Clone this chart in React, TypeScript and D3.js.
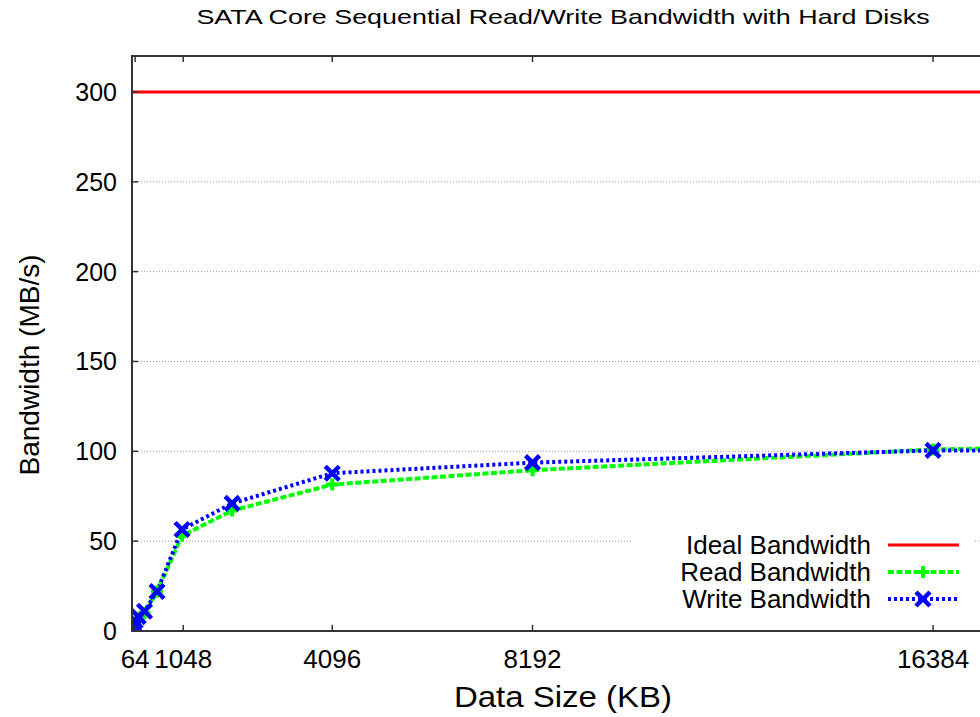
import React from "react";
import * as d3 from "d3";

// Data sizes in KB and measured bandwidth in MB/s
const dataSizes = [16, 32, 64, 128, 256, 512, 1024, 2048, 4096, 8192, 16384, 32768];
const readBandwidth = [1, 2.5, 4.5, 7, 10, 22, 53, 67, 81.5, 89.5, 101, 110];
const writeBandwidth = [2, 3.5, 5.5, 8, 11, 22, 56.5, 71, 87.8, 93.7, 100.5, 100];
const idealBandwidth = 300;

const xTicks = [64, 1048, 4096, 8192, 16384];
const yTicks = [0, 50, 100, 150, 200, 250, 300];

const W = 980;
const H = 717;
const M = { left: 132, top: 56, right: 992, bottom: 631 };

const FONT = "'Liberation Sans', Arial, Helvetica, sans-serif";

export default function App() {
  const x = d3.scaleLinear().domain([0, 17590]).range([M.left, M.right]);
  const y = d3.scaleLinear().domain([0, 320]).range([M.bottom, M.top]);

  const readPts: [number, number][] = dataSizes.map((d, i) => [d, readBandwidth[i]]);
  const writePts: [number, number][] = dataSizes.map((d, i) => [d, writeBandwidth[i]]);

  const line = d3
    .line<[number, number]>()
    .x((d) => x(d[0]))
    .y((d) => y(d[1]));

  const plus = (cx: number, cy: number, r: number) =>
    `M${cx - r},${cy}L${cx + r},${cy}M${cx},${cy - r}L${cx},${cy + r}`;
  const cross = (cx: number, cy: number, r: number) =>
    `M${cx - r},${cy - r}L${cx + r},${cy + r}M${cx - r},${cy + r}L${cx + r},${cy - r}`;

  const legendRows = [
    { label: "Ideal Bandwidth", color: "#ff0000", dash: "none", width: 3, marker: null },
    { label: "Read Bandwidth", color: "#00ff00", dash: "6,2.5", width: 4, marker: "plus" },
    { label: "Write Bandwidth", color: "#0000ff", dash: "3,3", width: 4, marker: "cross" },
  ];

  return (
    <svg
      width={W}
      height={H}
      style={{ position: "absolute", left: 0, top: 0, background: "#fff" }}
      fontFamily={FONT}
    >
      <defs>
        <clipPath id="plotArea">
          <rect x={M.left} y={M.top} width={M.right - M.left} height={M.bottom - M.top} />
        </clipPath>
      </defs>

      {/* title, set in a horizontally widened face */}
      <text
        transform="translate(563,24) scale(1.28,1)"
        fontSize={21}
        textAnchor="middle"
        fill="#000"
      >
        SATA Core Sequential Read/Write Bandwidth with Hard Disks
      </text>

      {/* horizontal grid */}
      {yTicks
        .filter((t) => t > 0)
        .map((t) => (
          <line
            key={"g" + t}
            x1={M.left}
            x2={M.right}
            y1={y(t)}
            y2={y(t)}
            stroke="#999"
            strokeWidth={1}
            strokeDasharray="1,2"
          />
        ))}

      {/* ideal bandwidth line */}
      <line
        x1={M.left}
        x2={M.right}
        y1={y(idealBandwidth)}
        y2={y(idealBandwidth)}
        stroke="#ff0000"
        strokeWidth={3}
      />

      {/* data series */}
      <g clipPath="url(#plotArea)">
        <path d={line(readPts) || ""} fill="none" stroke="#00ff00" strokeWidth={4} strokeDasharray="6,2.5" />
        <path d={line(writePts) || ""} fill="none" stroke="#0000ff" strokeWidth={4} strokeDasharray="3,3" />
        {readPts.map((p, i) => (
          <path key={"r" + i} d={plus(x(p[0]), y(p[1]), 6)} stroke="#00ff00" strokeWidth={4} />
        ))}
        {writePts.map((p, i) => (
          <path key={"w" + i} d={cross(x(p[0]), y(p[1]), 7)} stroke="#0000ff" strokeWidth={4.5} />
        ))}
      </g>

      {/* legend */}
      <rect x={632} y={530} width={342} height={84} fill="#fff" />
      {legendRows.map((r, i) => {
        const cy = 545 + i * 27;
        return (
          <g key={r.label}>
            <text x={871} y={cy + 9} fontSize={26} textAnchor="end" fill="#000">
              {r.label}
            </text>
            <line
              x1={888}
              x2={959}
              y1={cy}
              y2={cy}
              stroke={r.color}
              strokeWidth={r.width}
              strokeDasharray={r.dash}
            />
            {r.marker === "plus" && <path d={plus(923, cy, 6)} stroke={r.color} strokeWidth={4} />}
            {r.marker === "cross" && <path d={cross(923, cy, 7)} stroke={r.color} strokeWidth={4.5} />}
          </g>
        );
      })}

      {/* border */}
      <rect
        x={M.left}
        y={M.top}
        width={M.right - M.left}
        height={M.bottom - M.top}
        fill="none"
        stroke="#333"
        strokeWidth={2}
      />

      {/* y ticks */}
      {yTicks.map((t) => (
        <g key={"y" + t}>
          <line x1={M.left} x2={M.left + 6} y1={y(t)} y2={y(t)} stroke="#333" strokeWidth={1.5} />
          <text x={117} y={y(t) + 9} fontSize={25} textAnchor="end" fill="#000">
            {t}
          </text>
        </g>
      ))}

      {/* x ticks */}
      {xTicks.map((t) => (
        <g key={"x" + t}>
          <line x1={x(t)} x2={x(t)} y1={M.bottom} y2={M.bottom - 6} stroke="#333" strokeWidth={1.5} />
          <line x1={x(t)} x2={x(t)} y1={M.top} y2={M.top + 6} stroke="#333" strokeWidth={1.5} />
          <text x={x(t)} y={668} fontSize={26} textAnchor="middle" fill="#000">
            {t}
          </text>
        </g>
      ))}

      {/* axis labels */}
      <text
        transform="translate(563,707) scale(1.1,1)"
        fontSize={30}
        textAnchor="middle"
        fill="#000"
      >
        Data Size (KB)
      </text>
      <text
        transform="translate(39,365) rotate(-90)"
        fontSize={28}
        textAnchor="middle"
        fill="#000"
      >
        Bandwidth (MB/s)
      </text>
    </svg>
  );
}
